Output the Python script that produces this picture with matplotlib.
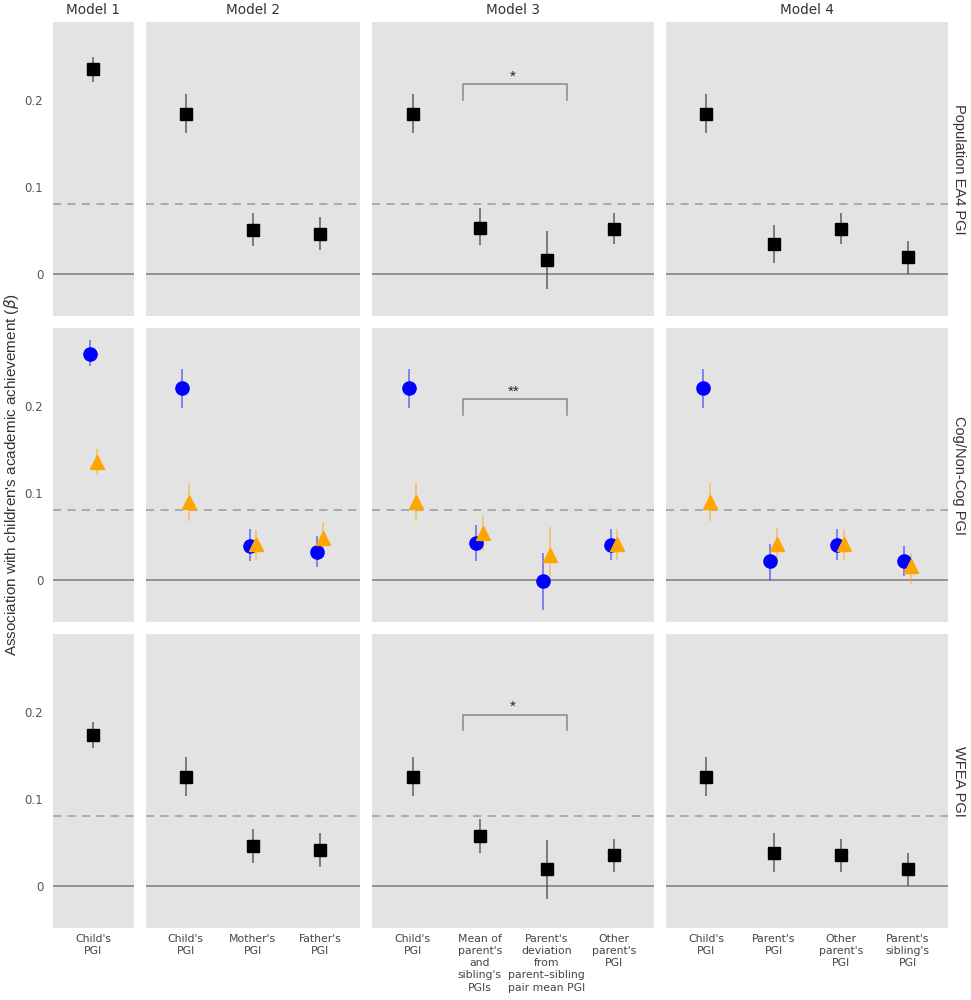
import matplotlib
matplotlib.use("Agg")
import matplotlib.pyplot as plt
import numpy as np

plt.rcParams['font.family'] = ['DejaVu Sans']

# ---------------- data ----------------
models = ["Model 1", "Model 2", "Model 3", "Model 4"]
rows = ["Population EA4 PGI", "Cog/Non-Cog PGI", "WFEA PGI"]

m1_labels = ["Child's\nPGI"]
m2_labels = ["Child's\nPGI", "Mother's\nPGI", "Father's\nPGI"]
m3_labels = ["Child's\nPGI", "Mean of\nparent's\nand\nsibling's\nPGIs",
             "Parent's\ndeviation\nfrom\nparent\u2013sibling\npair mean PGI",
             "Other\nparent's\nPGI"]
m4_labels = ["Child's\nPGI", "Parent's\nPGI", "Other\nparent's\nPGI",
             "Parent's\nsibling's\nPGI"]

# Population EA4 PGI
ea4_est = [[0.236], [0.184, 0.050, 0.046], [0.184, 0.053, 0.015, 0.051], [0.184, 0.034, 0.051, 0.019]]
ea4_lo = [[0.221], [0.162, 0.032, 0.027], [0.162, 0.033, -0.018, 0.034], [0.162, 0.012, 0.034, 0.000]]
ea4_hi = [[0.250], [0.207, 0.070, 0.065], [0.207, 0.075, 0.049, 0.070], [0.207, 0.056, 0.070, 0.038]]

# Cog PGI (blue circles)
cog_est = [[0.260], [0.221, 0.039, 0.032], [0.221, 0.042, -0.002, 0.040], [0.221, 0.021, 0.040, 0.021]]
cog_lo = [[0.246], [0.198, 0.021, 0.014], [0.198, 0.021, -0.035, 0.022], [0.198, -0.001, 0.022, 0.004]]
cog_hi = [[0.276], [0.243, 0.058, 0.050], [0.243, 0.063, 0.030, 0.058], [0.243, 0.041, 0.058, 0.039]]

# Non-Cog PGI (orange triangles)
noncog_est = [[0.135], [0.089, 0.041, 0.048], [0.089, 0.054, 0.028, 0.041], [0.089, 0.041, 0.041, 0.015]]
noncog_lo = [[0.121], [0.067, 0.022, 0.033], [0.067, 0.033, -0.002, 0.022], [0.067, 0.023, 0.022, -0.005]]
noncog_hi = [[0.150], [0.111, 0.057, 0.066], [0.111, 0.074, 0.060, 0.058], [0.111, 0.059, 0.058, 0.031]]

# WFEA PGI
wfea_est = [[0.173], [0.125, 0.045, 0.041], [0.125, 0.057, 0.019, 0.035], [0.125, 0.038, 0.035, 0.019]]
wfea_lo = [[0.158], [0.103, 0.026, 0.021], [0.103, 0.037, -0.015, 0.016], [0.103, 0.016, 0.016, 0.000]]
wfea_hi = [[0.188], [0.148, 0.065, 0.060], [0.148, 0.077, 0.053, 0.054], [0.148, 0.060, 0.054, 0.037]]

threshold = 0.08
bracket_x = [0.75, 2.3]
bracket_top = [0.218, 0.208, 0.197]
bracket_text = ["*", "**", "*"]

yticks = [0, 0.1, 0.2]
ytick_labels = ["0", "0.1", "0.2"]

# ---------------- layout ----------------
W, H = 971, 1000
fig = plt.figure(figsize=(W / 100, H / 100), dpi=100)

all_labels = [m1_labels, m2_labels, m3_labels, m4_labels]
ncat = [len(l) for l in all_labels]
units = [n + 0.2 for n in ncat]
left_px, right_px, top_px, bottom_px = 53, 948, 22, 928
gx, gy = 12, 12
unit_px = (right_px - left_px - 3 * gx) / sum(units)
row_h = (bottom_px - top_px - 2 * gy) / 3

BG = "#e3e3e3"
ylim = (-0.049, 0.290)

blue = "#0000ff"
orange = "#ffa500"
SANS = ["Liberation Sans", "DejaVu Sans"]

axes = []
for r in range(3):
    x0 = left_px
    y_top = top_px + r * (row_h + gy)
    for c in range(4):
        w = units[c] * unit_px
        ax = fig.add_axes([x0 / W, 1 - (y_top + row_h) / H, w / W, row_h / H])
        x0 += w + gx
        ax.set_facecolor(BG)
        for s in ax.spines.values():
            s.set_visible(False)
        ax.set_xlim(-0.6, ncat[c] - 1 + 0.6)
        ax.set_ylim(*ylim)
        ax.axhline(0, color="#8c8c8c", lw=1.3, zorder=1)
        ax.axhline(threshold, color="#a6a6a6", lw=1.3, ls=(0, (4.5, 3.5)), zorder=1)
        ax.tick_params(length=0)
        ax.set_yticks(yticks)
        if c == 0:
            ax.set_yticklabels(ytick_labels, color="#555555", fontsize=8.5)
            ax.tick_params(axis="y", pad=7)
        else:
            ax.set_yticklabels([])
        ax.set_xticks(np.arange(ncat[c]))
        if r == 2:
            ax.set_xticklabels(all_labels[c], color="#444444", fontsize=7.8,
                               linespacing=1.28, va="top")
            ax.tick_params(axis="x", pad=4)
        else:
            ax.set_xticklabels([])
        if r == 0:
            ax.set_title(models[c], fontsize=9.8, color="#333333", pad=6)
        if c == 3:
            ax.text(1.015, 0.5, rows[r], transform=ax.transAxes, rotation=-90,
                    ha="left", va="center", fontsize=10.5, color="#333333",
                    family=SANS)

        x = np.arange(ncat[c])
        if r == 1:
            series = [(cog_est, cog_lo, cog_hi, blue, "o", 9.5, -0.05),
                      (noncog_est, noncog_lo, noncog_hi, orange, "^", 10, 0.05)]
            for est, lo, hi, col, mk, ms, dx in series:
                e = np.array(est[c]); l = np.array(lo[c]); h = np.array(hi[c])
                ax.vlines(x + dx, l, h, color=col, lw=1.1, alpha=0.55, zorder=2)
                ax.plot(x + dx, e, ls="none", marker=mk, ms=ms, color=col,
                        mec=col, zorder=3)
        else:
            est, lo, hi = (ea4_est, ea4_lo, ea4_hi) if r == 0 else (wfea_est, wfea_lo, wfea_hi)
            e = np.array(est[c]); l = np.array(lo[c]); h = np.array(hi[c])
            ax.vlines(x, l, h, color="#333333", lw=1.1, alpha=0.75, zorder=2)
            ax.plot(x, e, ls="none", marker="s", ms=9, color="black", zorder=3)

        if c == 2:
            bt = bracket_top[r]
            ax.plot([bracket_x[0], bracket_x[0], bracket_x[1], bracket_x[1]],
                    [bt - 0.018, bt, bt, bt - 0.018], color="#888888", lw=1.1, zorder=2)
            ax.text(1.5, bt + 0.004, bracket_text[r], ha="center",
                    va="baseline", fontsize=11, color="#222222", family=SANS)
        axes.append(ax)

fig.text(2 / W, 1 - ((top_px + bottom_px) / 2) / H,
         "Association with children's academic achievement ($\\beta$)",
         rotation=90, ha="left", va="center", fontsize=11, color="#333333",
         family=SANS)

fig.savefig("out.png", dpi=100)
